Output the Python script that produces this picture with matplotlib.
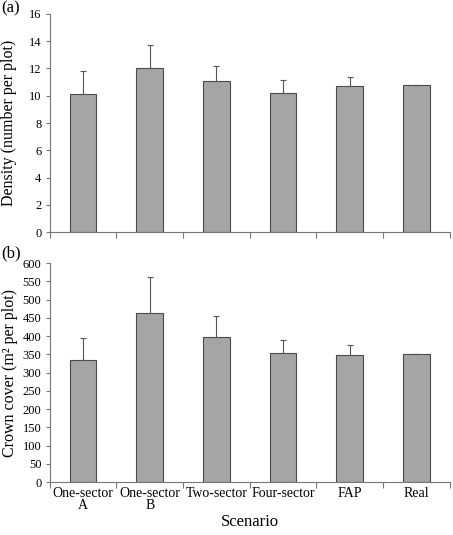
import matplotlib.pyplot as plt
import numpy as np

scenarios = ['One-sector\nA', 'One-sector\nB', 'Two-sector', 'Four-sector', 'FAP', 'Real']
density = [10.1, 12.0, 11.05, 10.2, 10.68, 10.8]
density_err = [1.68, 1.75, 1.12, 0.92, 0.72, 0.0]
crown = [334, 464, 399, 354, 349, 351]
crown_err = [61, 97, 56, 35, 26, 0]

plt.rcParams['font.family'] = ['Liberation Serif', 'DejaVu Serif']

fig = plt.figure(figsize=(4.53, 5.35), dpi=100)
ax1 = fig.add_axes([0.110, 0.566, 0.883, 0.408])
ax2 = fig.add_axes([0.110, 0.099, 0.883, 0.409])

x = np.arange(len(scenarios))
bar_kw = dict(width=0.4, color='#a5a5a5', edgecolor='#4a4a4a', linewidth=0.8)
err_kw = dict(ecolor='#555555', elinewidth=0.8, capsize=2.5, capthick=0.8)

for ax, vals, errs in [(ax1, density, density_err), (ax2, crown, crown_err)]:
    ax.bar(x, vals, **bar_kw)
    ax.errorbar(x, vals, yerr=[np.zeros(len(errs)), errs], fmt='none', **err_kw)
    ax.set_xlim(-0.5, len(scenarios) - 0.5)
    ax.spines['top'].set_visible(False)
    ax.spines['right'].set_visible(False)
    for s in ['left', 'bottom']:
        ax.spines[s].set_color('#777777')
        ax.spines[s].set_linewidth(0.8)
    ax.set_xticks(np.arange(len(scenarios) + 1) - 0.5)
    ax.set_xticklabels([])
    ax.set_xticks(x, minor=True)
    ax.tick_params(axis='x', which='major', length=4, color='#777777', direction='out')
    ax.tick_params(axis='x', which='minor', length=0, labelsize=10)
    ax.tick_params(axis='y', length=3, color='#777777', labelsize=9, pad=3)

ax1.set_ylim(0, 16)
ax1.set_yticks(np.arange(0, 17, 2))
ax1.set_ylabel('Density (number per plot)', fontsize=11.5)
ax1.yaxis.set_label_coords(-0.082, 0.5)

ax2.set_ylim(0, 600)
ax2.set_yticks(np.arange(0, 601, 50))
ax2.set_xticklabels(scenarios, minor=True, linespacing=0.95)
ax2.set_ylabel('Crown cover (m\u00b2 per plot)', fontsize=11.5)
ax2.yaxis.set_label_coords(-0.080, 0.5)
ax2.set_xlabel('Scenario', fontsize=12, labelpad=1)

fig.text(0.002, 0.985, '(a)', fontsize=12, va='center', ha='left')
fig.text(0.002, 0.527, '(b)', fontsize=12, va='center', ha='left')

fig.savefig('out.png', dpi=100)
